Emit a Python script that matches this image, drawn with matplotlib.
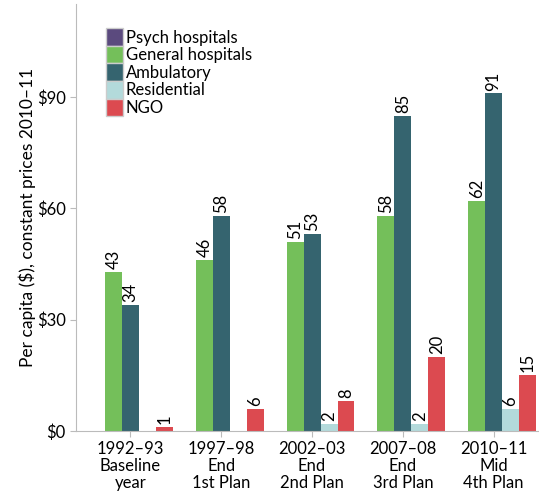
import numpy as np
import matplotlib.pyplot as plt

plt.rcParams['font.family'] = ['Lato', 'DejaVu Sans']

# data
groups = ['1992–93\nBaseline\nyear', '1997–98\nEnd\n1st Plan', '2002–03\nEnd\n2nd Plan',
          '2007–08\nEnd\n3rd Plan', '2010–11\nMid\n4th Plan']
series = ['Psych hospitals', 'General hospitals', 'Ambulatory', 'Residential', 'NGO']
psych = [0, 0, 0, 0, 0]
general = [43, 46, 51, 58, 62]
ambulatory = [34, 58, 53, 85, 91]
residential = [0, 0, 2, 2, 6]
ngo = [1, 6, 8, 20, 15]
colors = ['#5B4A7E', '#74BF5A', '#35646F', '#B3DADB', '#DC4A50']

values = [psych, general, ambulatory, residential, ngo]

fig = plt.figure(figsize=(5.39, 4.96), dpi=100)
ax = fig.add_axes([0.141, 0.131, 0.859, 0.86])

x = np.arange(len(groups))
w = 0.187
for i, (name, vals, c) in enumerate(zip(series, values, colors)):
    pos = x + (i - 2) * w
    ax.bar(pos, vals, width=w, color=c, label=name)
    for p, v in zip(pos, vals):
        if v > 0:
            ax.text(p, v + 0.8, str(v), rotation=90, ha='center', va='bottom', fontsize=12)

ax.set_xlim(-0.6, 4.5)
ax.set_ylim(0, 115)
ax.set_yticks([0, 30, 60, 90])
ax.set_yticklabels(['$0', '$30', '$60', '$90'])
ax.set_xticks(x)
ax.set_xticklabels(groups, fontsize=12, linespacing=1.05)
ax.tick_params(axis='y', labelsize=12, color='#BBBBBB', length=4)
ax.tick_params(axis='x', color='#BBBBBB', length=4)
ax.set_ylabel('Per capita ($), constant prices 2010–11', fontsize=12.5)
ax.yaxis.set_label_coords(-0.086, 0.5)

for s in ['top', 'right']:
    ax.spines[s].set_visible(False)
for s in ['left', 'bottom']:
    ax.spines[s].set_color('#BBBBBB')

leg = ax.legend(loc='upper left', bbox_to_anchor=(0.05, 0.96), frameon=False, fontsize=12,
                handlelength=1.05, handleheight=1.25, handletextpad=0.15, labelspacing=0.0,
                borderaxespad=0)
for h in leg.legend_handles:
    h.set_edgecolor('#CCCCCC')

plt.savefig('out.png', dpi=100)
